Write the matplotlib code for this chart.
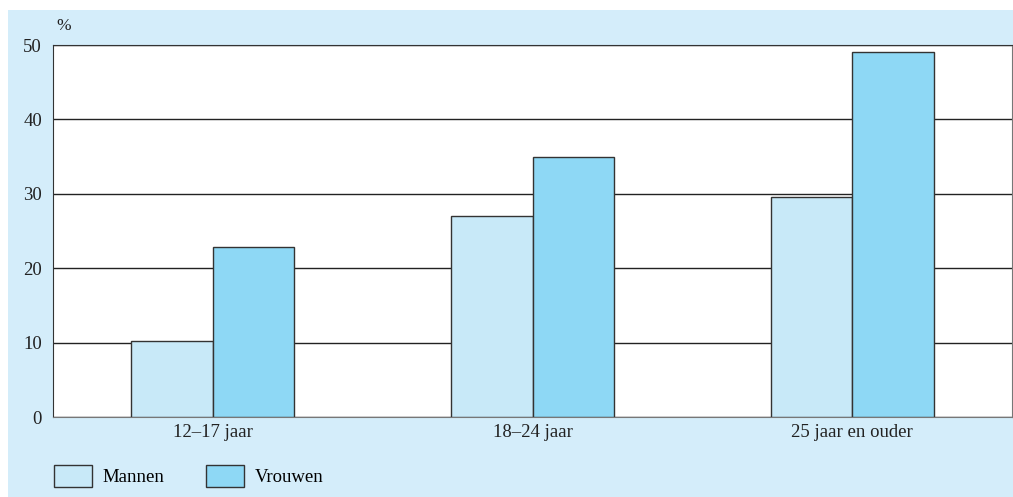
import matplotlib.pyplot as plt
import numpy as np

categories = ['12–17 jaar', '18–24 jaar', '25 jaar en ouder']
mannen = [10.2, 27.0, 29.6]
vrouwen = [22.9, 35.0, 49.0]
yticks = [0, 10, 20, 30, 40, 50]

bg = '#d4edfa'
c_man = '#c8e9f8'
c_vrouw = '#8ed8f5'

plt.rcParams['font.family'] = ['Liberation Serif', 'DejaVu Serif']

fig = plt.figure(figsize=(10.13, 4.97), dpi=100)
fig.patch.set_facecolor('white')
# light blue panel behind the chart
fig.patches.append(plt.Rectangle((8 / 1013, 0), 1, 1 - 10 / 497, transform=fig.transFigure,
                                 facecolor=bg, edgecolor='none', zorder=-10))

ax = fig.add_axes([53 / 1013, 1 - 417 / 497, (1012 - 53) / 1013, (417 - 45) / 497])
ax.set_facecolor('white')

x = np.arange(len(categories))
w = 0.255
ax.bar(x - w / 2, mannen, w, color=c_man, edgecolor='#333333', linewidth=1.0, label='Mannen', zorder=3)
ax.bar(x + w / 2, vrouwen, w, color=c_vrouw, edgecolor='#333333', linewidth=1.0, label='Vrouwen', zorder=3)

ax.set_xlim(-0.5, 2.5)
ax.set_ylim(0, 50)
ax.set_yticks(yticks)
ax.yaxis.grid(True, color='#222222', linewidth=1.0, zorder=0)
ax.set_axisbelow(True)
ax.set_xticks(x)
ax.set_xticklabels(categories)
ax.tick_params(length=0, labelsize=13.5, colors='#222222', pad=8)
ax.tick_params(axis='x', pad=5)
for s in ['left', 'top']:
    ax.spines[s].set_color('#333333')
for s in ['right', 'bottom']:
    ax.spines[s].set_color('#777777')

ax.text(0.004, 1.03, '%', transform=ax.transAxes, fontsize=12.5, color='#222222',
        ha='left', va='bottom')

fig.legend(loc='lower left', bbox_to_anchor=(50 / 1013, 6 / 497), ncol=2, frameon=False,
           fontsize=13.5, handlelength=2.05, handleheight=1.45, handletextpad=0.55,
           columnspacing=2.2, borderaxespad=0, borderpad=0.2)

fig.savefig('out.png', dpi=100, facecolor=fig.get_facecolor())
